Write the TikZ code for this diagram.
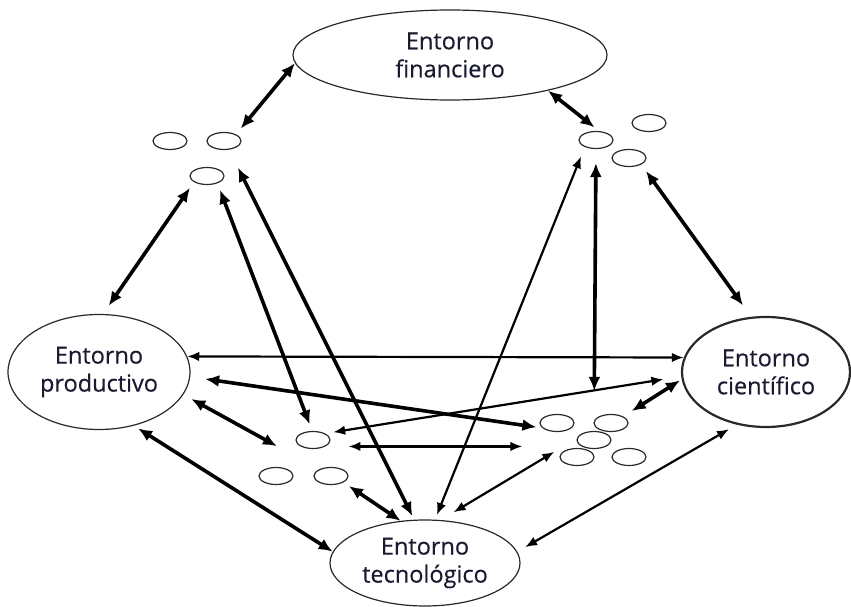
\documentclass[tikz,border=0pt]{standalone}
\usepackage{fontspec}
\setmainfont{Open Sans}
\newfontfamily\envfont{Open Sans}[FakeBold=0.35]
\usetikzlibrary{arrows.meta,shapes.geometric}
\definecolor{ink}{RGB}{26,26,48}
\definecolor{rim}{RGB}{40,40,40}
\begin{document}
\begin{tikzpicture}[x=1pt,y=-1pt,
  env/.style={ellipse, draw=rim, line width=1.2pt, inner sep=0pt, align=center,
    font=\envfont\fontsize{23.5}{28}\selectfont, text=ink},
  cell/.style={ellipse, draw=rim, line width=1.2pt, minimum width=34pt,
    minimum height=17pt, inner sep=0pt},
  heavy/.style={line width=3.6pt,
    {Latex[length=14pt,width=12pt]}-{Latex[length=14pt,width=12pt]}},
  light/.style={line width=2.2pt,
    {Latex[length=12pt,width=9.5pt]}-{Latex[length=12pt,width=9.5pt]}},
]
\useasboundingbox (0,0) rectangle (851,607);

% the four environments
\node[env, minimum width=314pt, minimum height=90pt]  (fin)  at (450,55)  {Entorno\\financiero};
\node[env, minimum width=182pt, minimum height=115pt] (prod) at (99,372)  {Entorno\\productivo};
\node[env, line width=2.2pt, minimum width=168pt, minimum height=110pt] (sci) at (766,372) {Entorno\\científico};
\node[env, minimum width=190pt, minimum height=86pt]  (tec)  at (425,563) {Entorno\\tecnológico};

% small agents, upper left
\node[cell] (tl1) at (170,141) {};
\node[cell] (tl2) at (224,141) {};
\node[cell] (tl3) at (207,176) {};
% upper right
\node[cell] (tr1) at (596,140) {};
\node[cell] (tr2) at (649,123) {};
\node[cell] (tr3) at (629,158) {};
% middle left
\node[cell] (ml1) at (313,440) {};
\node[cell] (ml2) at (276,476) {};
\node[cell] (ml3) at (331,476) {};
% middle right
\node[cell] (mr1) at (557,423) {};
\node[cell] (mr2) at (611,423) {};
\node[cell] (mr3) at (594,440) {};
\node[cell] (mr4) at (577,457) {};
\node[cell] (mr5) at (629,457) {};

% links
\draw[heavy, shorten >=7.5pt] (fin.183) -- (tl2.29);
\draw[heavy, shorten >=6pt] (fin.340) -- (tr1.70);
\draw[heavy, shorten <=10pt, shorten >=7pt] (prod.86) -- (tl3.205);
\draw[heavy, shorten <=7pt, shorten >=7pt] (tl3.325) -- (ml1.95);
\draw[heavy, shorten <=20pt, shorten >=4pt] (tl2.300) -- (tec.104);
\draw[light, shorten <=10pt, shorten >=5pt] (tr1.212) -- (tec.77);
\draw[heavy, shorten <=14pt, shorten >=40pt] (tr1.south) -- (mr3.north);
\draw[heavy, shorten <=8pt, shorten >=14pt] (tr3.332) -- (sci.105);
\draw[light] (prod.10) -- (sci.170);
\draw[heavy, shorten <=15pt, shorten >=6pt] (prod.357) -- (mr1.199);
\draw[light, shorten <=8pt, shorten >=18pt] (ml1.28) -- (sci.183);
\draw[heavy, shorten <=9pt, shorten >=48pt] (prod.345) -- (ml3);
\draw[light, shorten <=23pt, shorten >=37pt] (ml1.south east) -- (ml1.south east -| mr4.west);
\draw[heavy, shorten <=6.5pt] (ml3.333) -- (tec.120);
\draw[heavy, shorten <=5pt] (prod.303) -- (tec.173);
\draw[light, shorten <=15pt, shorten >=26pt] (tec.70) -- (mr3.175);
\draw[light, shorten <=9pt, shorten >=9pt] (sci.241) -- (tec.7);
\draw[heavy, shorten <=10pt, shorten >=2pt] (mr2.28) -- (sci.185);
\end{tikzpicture}
\end{document}
